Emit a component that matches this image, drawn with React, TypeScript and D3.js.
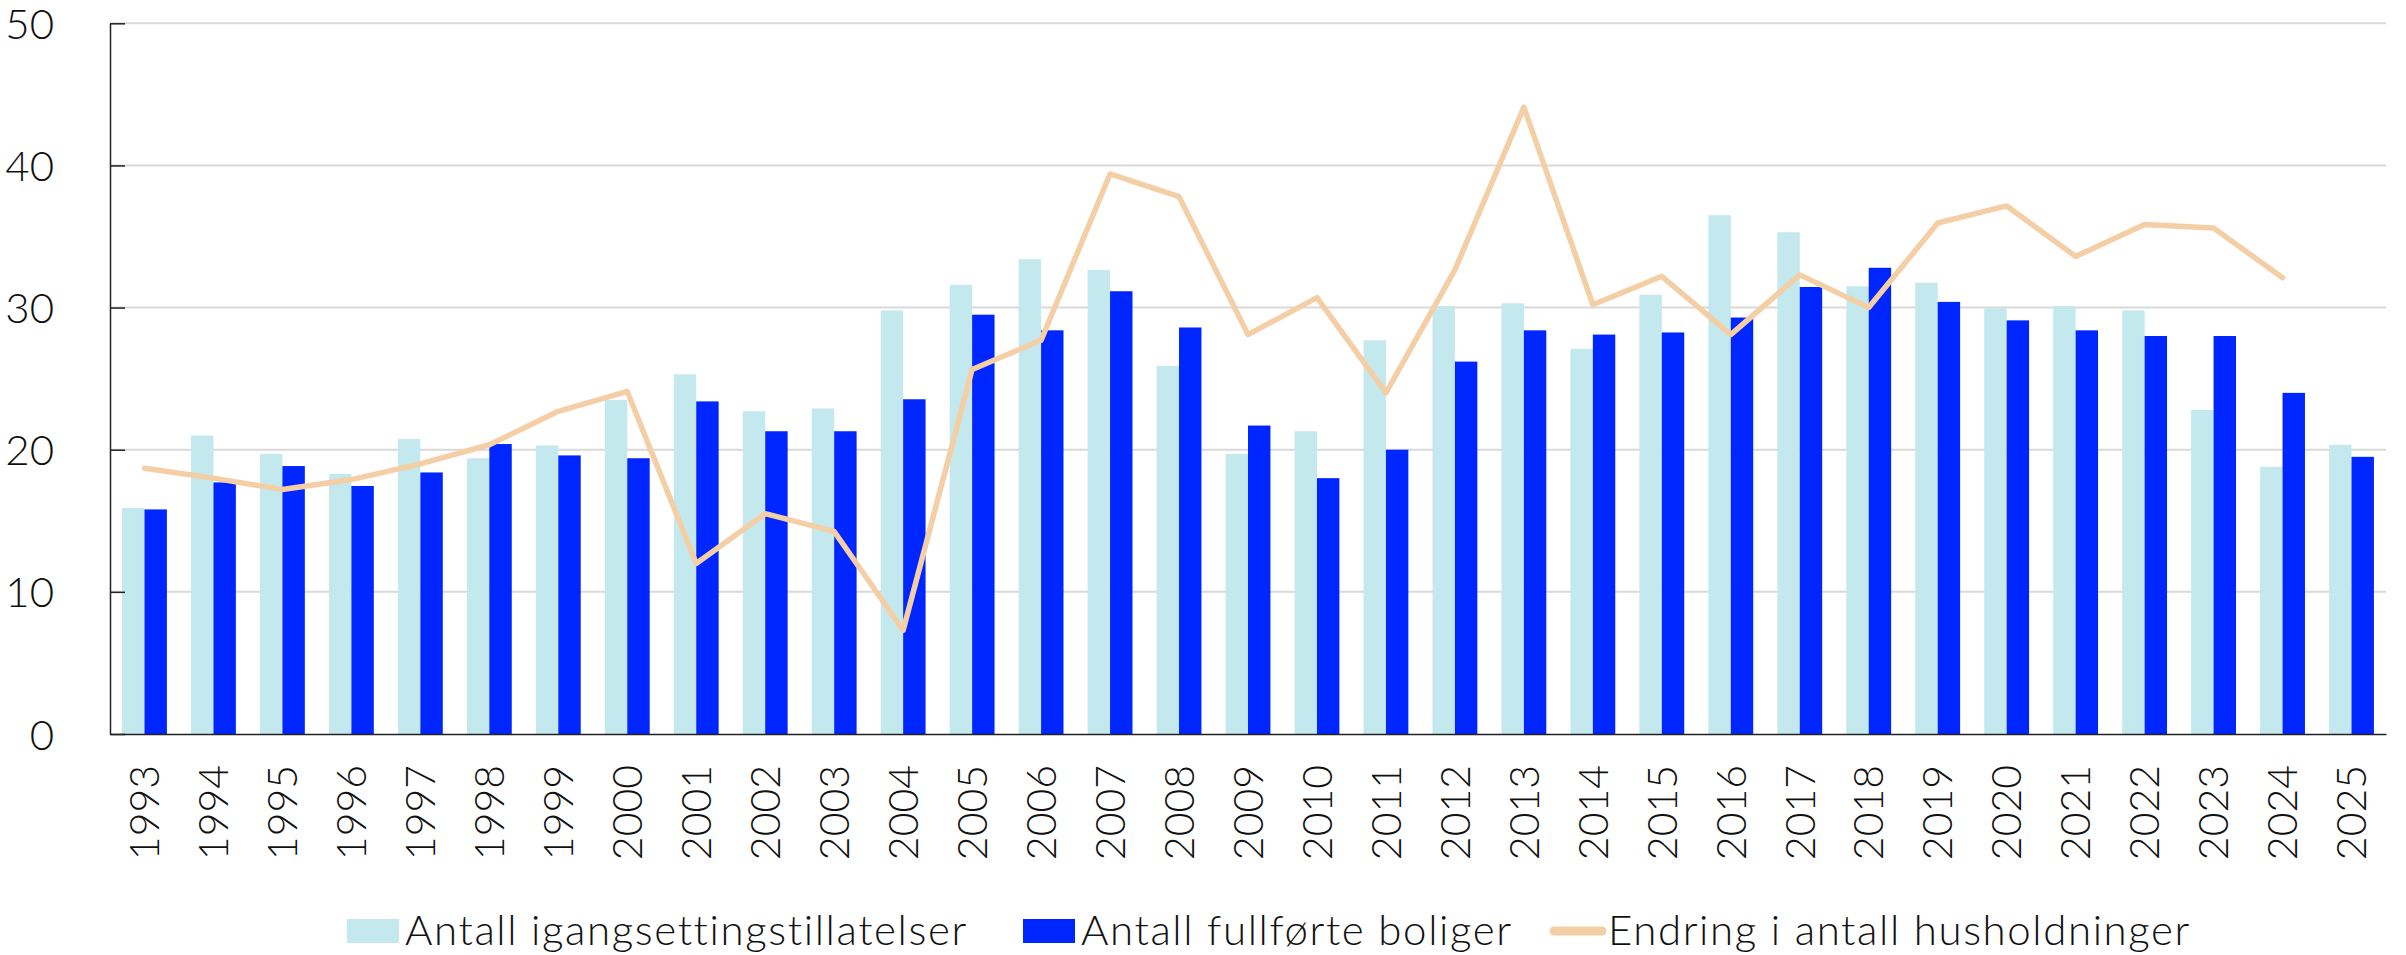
import React, { useEffect, useRef } from 'react';
import * as d3 from 'd3';

const years = [
  '1993', '1994', '1995', '1996', '1997', '1998', '1999', '2000', '2001', '2002', '2003',
  '2004', '2005', '2006', '2007', '2008', '2009', '2010', '2011', '2012', '2013', '2014',
  '2015', '2016', '2017', '2018', '2019', '2020', '2021', '2022', '2023', '2024', '2025'
];

// igangsettingstillatelser (light bars)
const permits = [
  15.9, 21.0, 19.7, 18.3, 20.75, 19.4, 20.3, 23.5, 25.3, 22.7, 22.9,
  29.8, 31.6, 33.4, 32.65, 25.9, 19.7, 21.3, 27.7, 30.1, 30.3, 27.1,
  30.9, 36.5, 35.3, 31.5, 31.75, 29.95, 30.1, 29.8, 22.8, 18.8, 20.35
];

// fullforte boliger (dark bars)
const completed = [
  15.8, 17.7, 18.85, 17.45, 18.4, 20.4, 19.6, 19.4, 23.4, 21.3, 21.3,
  23.55, 29.5, 28.4, 31.15, 28.6, 21.7, 18.0, 20.0, 26.2, 28.4, 28.1,
  28.25, 29.3, 31.45, 32.8, 30.4, 29.1, 28.4, 28.0, 28.0, 24.0, 19.5
];

// endring i antall husholdninger (line), no value for 2025
const households = [
  18.7, 18.0, 17.2, 17.9, 19.0, 20.35, 22.7, 24.1, 12.0, 15.5, 14.25,
  7.3, 25.65, 27.7, 39.4, 37.8, 28.1, 30.7, 24.0, 32.65, 44.1, 30.2,
  32.2, 28.1, 32.3, 30.0, 35.95, 37.15, 33.6, 35.85, 35.6, 32.1, null
];

const yTicks = [0, 10, 20, 30, 40, 50];

const legendItems = [
  { label: 'Antall igangsettingstillatelser', kind: 'bar', color: '#c3e8ee' },
  { label: 'Antall fullførte boliger', kind: 'bar', color: '#0026ff' },
  { label: 'Endring i antall husholdninger', kind: 'line', color: '#f4cfa6' }
];

const W = 2406, H = 955;
const FONT = 'Lato, "Open Sans", sans-serif';

function Chart() {
  const ref = useRef<SVGSVGElement>(null);

  useEffect(() => {
    const svg = d3.select(ref.current);
    svg.selectAll('*').remove();

    const left = 110, right = 2386, top = 23.3, bottom = 734;

    const x = d3.scaleBand().domain(years).range([left, right]).paddingInner(0.35).paddingOuter(0.175);
    const y = d3.scaleLinear().domain([0, 50]).range([bottom, top]);
    const sub = d3.scaleBand().domain(['a', 'b']).range([0, x.bandwidth()]);

    // grid
    svg.append('g').selectAll('line').data(yTicks.filter(d => d > 0)).enter().append('line')
      .attr('x1', left).attr('x2', right)
      .attr('y1', d => y(d)).attr('y2', d => y(d))
      .attr('stroke', '#d9d9d9').attr('stroke-width', 2);

    // bars
    const g = svg.append('g');
    g.selectAll('.p').data(permits).enter().append('rect')
      .attr('x', (d, i) => (x(years[i]) as number) + (sub('a') as number))
      .attr('width', sub.bandwidth())
      .attr('y', d => y(d)).attr('height', d => y(0) - y(d))
      .attr('fill', legendItems[0].color);
    g.selectAll('.c').data(completed).enter().append('rect')
      .attr('x', (d, i) => (x(years[i]) as number) + (sub('b') as number))
      .attr('width', sub.bandwidth())
      .attr('y', d => y(d)).attr('height', d => y(0) - y(d))
      .attr('fill', legendItems[1].color);

    // line
    const line = d3.line<number | null>()
      .defined(d => d !== null)
      .x((d, i) => (x(years[i]) as number) + x.bandwidth() / 2)
      .y(d => y(d as number));
    svg.append('path').datum(households)
      .attr('d', line)
      .attr('fill', 'none')
      .attr('stroke', legendItems[2].color)
      .attr('stroke-width', 5.5)
      .attr('stroke-linejoin', 'round')
      .attr('stroke-linecap', 'round');

    // axes
    const yAxis = d3.axisLeft(y).tickValues(yTicks).tickSize(-15).tickPadding(56).tickSizeOuter(0);
    const ya = svg.append('g').attr('transform', `translate(${left},0)`).call(yAxis);
    ya.select('.domain').attr('stroke', '#222').attr('stroke-width', 1.5);
    ya.selectAll('.tick line').attr('stroke', '#222').attr('stroke-width', 1.5);
    ya.selectAll('.tick text')
      .attr('font-family', FONT).attr('font-weight', 300).attr('font-size', 42).attr('fill', '#111')
      .attr('dy', '0.36em');

    const xAxis = d3.axisBottom(x).tickSize(0).tickSizeOuter(0);
    const xa = svg.append('g').attr('transform', `translate(0,${bottom})`).call(xAxis);
    xa.select('.domain').attr('stroke', '#222').attr('stroke-width', 1.5);
    xa.selectAll('.tick text')
      .attr('font-family', FONT).attr('font-weight', 300).attr('font-size', 41).attr('fill', '#111')
      .attr('text-anchor', 'end')
      .attr('transform', 'rotate(-90)')
      .attr('x', -31).attr('y', 0).attr('dy', '0.36em');

    // legend
    const legendX = [347, 1023, 1550];
    const lg = svg.append('g').attr('font-family', FONT).attr('font-weight', 300).attr('font-size', 42);
    legendItems.forEach((item, i) => {
      const gx = legendX[i];
      if (item.kind === 'bar') {
        lg.append('rect').attr('x', gx).attr('y', 919).attr('width', 52).attr('height', 24).attr('fill', item.color);
      } else {
        lg.append('line').attr('x1', gx + 4).attr('x2', gx + 52).attr('y1', 931).attr('y2', 931)
          .attr('stroke', item.color).attr('stroke-width', 9).attr('stroke-linecap', 'round');
      }
      lg.append('text').attr('x', gx + 58).attr('y', 945).attr('fill', '#111')
        .attr('letter-spacing', 1.6).text(item.label);
    });
  }, []);

  return <svg ref={ref} width={W} height={H} style={{ position: 'absolute', left: 0, top: 0, background: '#fff' }} />;
}

export default function App() {
  return <Chart />;
}
